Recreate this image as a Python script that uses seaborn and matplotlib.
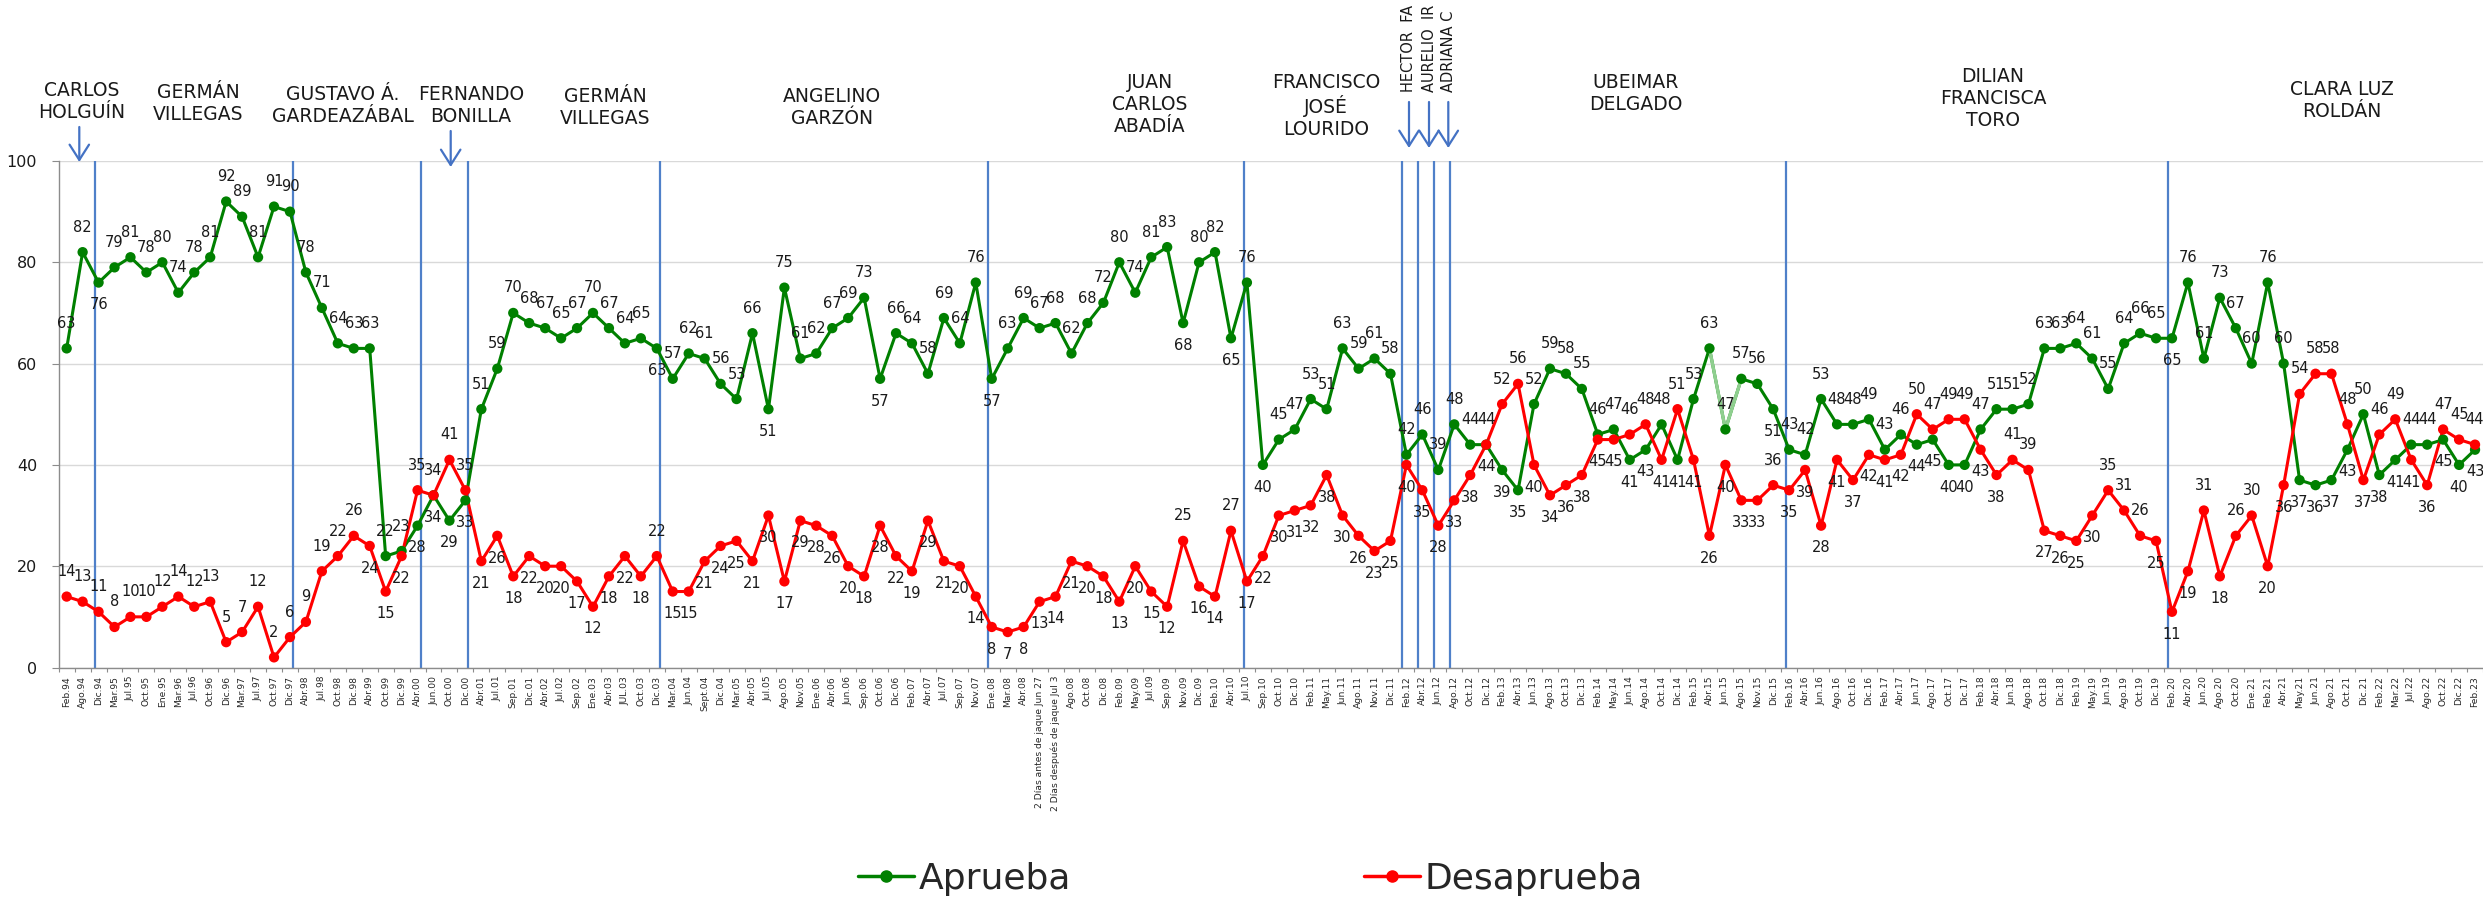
import numpy as np
import pandas as pd
import matplotlib
matplotlib.use("Agg")
import matplotlib.pyplot as plt
import seaborn as sns
from matplotlib import font_manager
from matplotlib.lines import Line2D

# ---------------------------------------------------------------------------
# Datos: aprobación / desaprobación de la gestión del gobernador del Valle
# ---------------------------------------------------------------------------
PERIODOS = [
    "Feb.94", "Ago.94", "Dic.94", "Mar.95", "Jul.95", "Oct.95", "Ene.95", "Mar.96",
    "Jul.96", "Oct.96", "Dic.96", "Mar.97", "Jul.97", "Oct.97", "Dic.97", "Abr.98",
    "Jul.98", "Oct.98", "Dic.98", "Abr.99", "Oct.99", "Dic.99", "Abr.00", "Jun.00",
    "Oct.00", "Dic.00", "Abr.01", "Jul.01", "Sep.01", "Dic.01", "Abr.02", "Jul.02",
    "Sep.02", "Ene.03", "Abr.03", "JUL.03", "Oct.03", "Dic.03", "Mar.04", "Jun.04",
    "Sept.04", "Dic.04", "Mar.05", "Abr.05", "Jul.05", "Ago.05", "Nov.05", "Ene.06",
    "Abr.06", "Jun.06", "Sep.06", "Oct.06", "Dic.06", "Feb.07", "Abr.07", "Jul.07",
    "Sep.07", "Nov.07", "Ene.08", "Mar.08", "Abr.08",
    "2 Días antes de jaque Jun 27", "2 Días después de jaque Jul 3",
    "Ago.08", "Oct.08", "Dic.08", "Feb.09", "May.09", "Jul.09", "Sep.09", "Nov.09",
    "Dic.09", "Feb.10", "Abr.10", "Jul.10", "Sep.10", "Oct.10", "Dic.10", "Feb.11",
    "May.11", "Jun.11", "Ago.11", "Nov.11", "Dic.11", "Feb.12", "Abr.12", "Jun.12",
    "Ago.12", "Oct.12", "Dic.12", "Feb.13", "Abr.13", "Jun.13", "Ago.13", "Oct.13",
    "Dic.13", "Feb.14", "May.14", "Jun.14", "Ago.14", "Oct.14", "Dic.14", "Feb.15",
    "Abr.15", "Jun.15", "Ago.15", "Nov.15", "Dic.15", "Feb.16", "Abr.16", "Jun.16",
    "Ago.16", "Oct.16", "Dic.16", "Feb.17", "Abr.17", "Jun.17", "Ago.17", "Oct.17",
    "Dic.17", "Feb.18", "Abr.18", "Jun.18", "Ago.18", "Oct.18", "Dic.18", "Feb.19",
    "May.19", "Jun.19", "Ago.19", "Oct.19", "Dic.19", "Feb.20", "Abr.20", "Jun.20",
    "Ago.20", "Oct.20", "Ene.21", "Feb.21", "Abr.21", "May.21", "Jun.21", "Ago.21",
    "Oct.21", "Dic.21", "Feb.22", "Mar.22", "Jul.22", "Ago.22", "Oct.22", "Dic.22",
    "Feb.23",
]

APRUEBA = [
    63, 82, 76, 79, 81, 78, 80, 74, 78, 81, 92, 89, 81, 91, 90, 78,
    71, 64, 63, 63, 22, 23, 28, 34, 29, 33, 51, 59, 70, 68, 67, 65,
    67, 70, 67, 64, 65, 63, 57, 62, 61, 56, 53, 66, 51, 75, 61, 62,
    67, 69, 73, 57, 66, 64, 58, 69, 64, 76, 57, 63, 69, 67, 68,
    62, 68, 72, 80, 74, 81, 83, 68, 80, 82, 65, 76, 40, 45, 47, 53,
    51, 63, 59, 61, 58, 42, 46, 39, 48, 44, 44, 39, 35, 52, 59, 58,
    55, 46, 47, 41, 43, 48, 41, 53, 63, 47, 57, 56, 51, 43, 42, 53,
    48, 48, 49, 43, 46, 44, 45, 40, 40, 47, 51, 51, 52, 63, 63, 64,
    61, 55, 64, 66, 65, 65, 76, 61, 73, 67, 60, 76, 60, 37, 36, 37,
    43, 50, 38, 41, 44, 44, 45, 40, 43,
]

DESAPRUEBA = [
    14, 13, 11, 8, 10, 10, 12, 14, 12, 13, 5, 7, 12, 2, 6, 9,
    19, 22, 26, 24, 15, 22, 35, 34, 41, 35, 21, 26, 18, 22, 20, 20,
    17, 12, 18, 22, 18, 22, 15, 15, 21, 24, 25, 21, 30, 17, 29, 28,
    26, 20, 18, 28, 22, 19, 29, 21, 20, 14, 8, 7, 8, 13, 14,
    21, 20, 18, 13, 20, 15, 12, 25, 16, 14, 27, 17, 22, 30, 31, 32,
    38, 30, 26, 23, 25, 40, 35, 28, 33, 38, 44, 52, 56, 40, 34, 36,
    38, 45, 45, 46, 48, 41, 51, 41, 26, 40, 33, 33, 36, 35, 39, 28,
    41, 37, 42, 41, 42, 50, 47, 49, 49, 43, 38, 41, 39, 27, 26, 25,
    30, 35, 31, 26, 25, 11, 19, 31, 18, 26, 30, 20, 36, 54, 58, 58,
    48, 37, 46, 49, 41, 36, 47, 45, 44,
]

SERIES = ["Aprueba", "Desaprueba"]
COLORES = {"Aprueba": "#008000", "Desaprueba": "#ff0000"}

GOBERNADORES = [
    "CARLOS\nHOLGUÍN", "GERMÁN\nVILLEGAS", "GUSTAVO Á.\nGARDEAZÁBAL",
    "FERNANDO\nBONILLA", "GERMÁN\nVILLEGAS", "ANGELINO\nGARZÓN",
    "JUAN\nCARLOS\nABADÍA", "FRANCISCO\nJOSÉ\nLOURIDO", "UBEIMAR\nDELGADO",
    "DILIAN\nFRANCISCA\nTORO", "CLARA LUZ\nROLDÁN",
]
ENCARGADOS = ["HECTOR  FA", "AURELIO  IR", "ADRIANA C"]

# ---------------------------------------------------------------------------
# Layout (figure pixels, origin top-left) and styling
# ---------------------------------------------------------------------------
W, H = 2483, 908
POS_GOBERNADORES = [(82, 102), (198, 104), (343, 106), (471, 106), (605, 108),
                    (832, 108), (1150, 105), (1326, 106), (1636, 94),
                    (1993, 98.5), (2342, 100.5)]
POS_ENCARGADOS = [1408.5, 1429, 1448.5]
FLECHAS = [(79.3, 127, 162), (450.7, 131, 167),
           (1409, 102, 148), (1429, 102, 148), (1448.3, 102, 148)]
CAMBIOS = [1.78, 14.18, 22.21, 25.18, 37.17, 57.78, 73.84,
           83.75, 84.75, 85.75, 86.75, 107.78, 131.77]
VERDE_ABAJO = {2, 23, 37, 44, 51, 58, 70, 73, 75, 107, 132}
ROJO_ARRIBA = set(range(0, 19)) | {23, 37, 70, 73, 107, 122, 123, 128, 129,
                                    130, 134, 136, 137}
TRAMO_CLARO = (103, 106)

AZUL = "#4f80c9"
AZUL_FLECHA = "#4472c4"
GRIS = "#8c8c8c"
TEXTO = "#1a1a1a"

sns.set_theme(style="white")
plt.rcParams["font.family"] = ["DejaVu Sans"]

disponibles = {f.name for f in font_manager.fontManager.ttflist}
if "Liberation Sans Narrow" in disponibles:
    ESTRECHA, TAM_LEYENDA, TAM_ENCARGADO = "Liberation Sans Narrow", 34, 12
    LEY_HL, LEY_PAD, LEY_COL = 1.19, 0.10, 6.3
else:
    ESTRECHA, TAM_LEYENDA, TAM_ENCARGADO = "DejaVu Sans", 26, 10.5
    LEY_HL, LEY_PAD, LEY_COL = 1.55, 0.14, 8.1

fig = plt.figure(figsize=(W / 100, H / 100), dpi=100)
fig.patch.set_facecolor("white")
ax = fig.add_axes([58.7 / W, (H - 667.5) / H, 1 - 58.7 / W, (667.5 - 161) / H])

n = len(PERIODOS)
df = pd.DataFrame({"pos": np.arange(n), "Aprueba": APRUEBA, "Desaprueba": DESAPRUEBA})
largo = df.melt(id_vars="pos", value_vars=SERIES, var_name="serie", value_name="valor")

# separators between administrations
for x in CAMBIOS:
    ax.axvline(x, color=AZUL, lw=1.6, zorder=2)

sns.lineplot(data=largo, x="pos", y="valor", hue="serie", palette=COLORES,
             linewidth=2.2, legend=False, sort=False, ax=ax, zorder=3)
tramo = df.iloc[TRAMO_CLARO[0]:TRAMO_CLARO[1]]
sns.lineplot(x=tramo["pos"], y=tramo["Aprueba"], color="#8fcf8f", linewidth=2.4,
             sort=False, ax=ax, zorder=3.5)
sns.scatterplot(data=largo, x="pos", y="valor", hue="serie", palette=COLORES,
                s=55, linewidth=0, legend=False, ax=ax, zorder=4)

# value labels
for i, (a, d) in enumerate(zip(APRUEBA, DESAPRUEBA)):
    verde_arriba = a >= d and i not in VERDE_ABAJO
    rojo_arriba = d > a or i in ROJO_ARRIBA
    ax.annotate(f"{a}", (i, a), xytext=(0, 18 if verde_arriba else -16),
                textcoords="offset points", ha="center", va="center",
                fontsize=10.5, color=TEXTO, zorder=5)
    ax.annotate(f"{d}", (i, d), xytext=(0, 18 if rojo_arriba else -16),
                textcoords="offset points", ha="center", va="center",
                fontsize=10.5, color=TEXTO, zorder=5)

# axes styling
ax.set_xlim(-0.5, 151.21)
ax.set_ylim(0, 100)
ax.set_yticks(range(0, 101, 20))
ax.yaxis.grid(True, color="#d9d9d9", lw=1.0)
ax.xaxis.grid(False)
ax.set_axisbelow(True)
ax.set_xlabel("")
ax.set_ylabel("")
for lado in ("top", "right"):
    ax.spines[lado].set_visible(False)
for lado in ("left", "bottom"):
    ax.spines[lado].set_color(GRIS)
    ax.spines[lado].set_linewidth(1.0)

ax.set_xticks(np.arange(n))
ax.set_xticklabels(PERIODOS, rotation=90, fontsize=6.6, color="#262626")
ax.set_xticks(np.arange(-0.5, n, 1.0), minor=True)
ax.tick_params(axis="x", which="major", bottom=True, length=0, pad=6)
ax.tick_params(axis="x", which="minor", bottom=True, length=3, width=0.8,
               color=GRIS, direction="out")
ax.tick_params(axis="y", which="major", left=True, length=5, width=0.8,
               color=GRIS, pad=10.5, labelsize=11.5, labelcolor=TEXTO)

# governors' names above the plot
for nombre, (x, y) in zip(GOBERNADORES, POS_GOBERNADORES):
    fig.text(x / W, 1 - y / H, nombre, ha="center", va="center",
             fontsize=13.5, color=TEXTO, linespacing=1.2)

for nombre, x in zip(ENCARGADOS, POS_ENCARGADOS):
    fig.text(x / W, 1 - 92 / H, nombre, rotation=90, ha="center", va="bottom",
             fontsize=TAM_ENCARGADO, family=ESTRECHA, color=TEXTO)

for x, y0, y1 in FLECHAS:
    ax.annotate("", xy=(x, H - y1), xytext=(x, H - y0),
                xycoords="figure pixels", textcoords="figure pixels",
                annotation_clip=False,
                arrowprops=dict(arrowstyle="->,head_length=0.55,head_width=0.35",
                                color=AZUL_FLECHA, lw=1.6, mutation_scale=20,
                                shrinkA=0, shrinkB=0))

# legend
manejadores = [Line2D([], [], color=COLORES[s], marker="o", markersize=8,
                      linewidth=2.5) for s in SERIES]
fig.legend(manejadores, SERIES, loc="center left",
           bbox_to_anchor=(858 / W, 1 - 879 / H), ncol=2, frameon=False,
           prop={"family": ESTRECHA, "size": TAM_LEYENDA},
           handlelength=LEY_HL, handletextpad=LEY_PAD, columnspacing=LEY_COL,
           borderpad=0, borderaxespad=0)

fig.savefig("out.png", dpi=100, facecolor="white")
